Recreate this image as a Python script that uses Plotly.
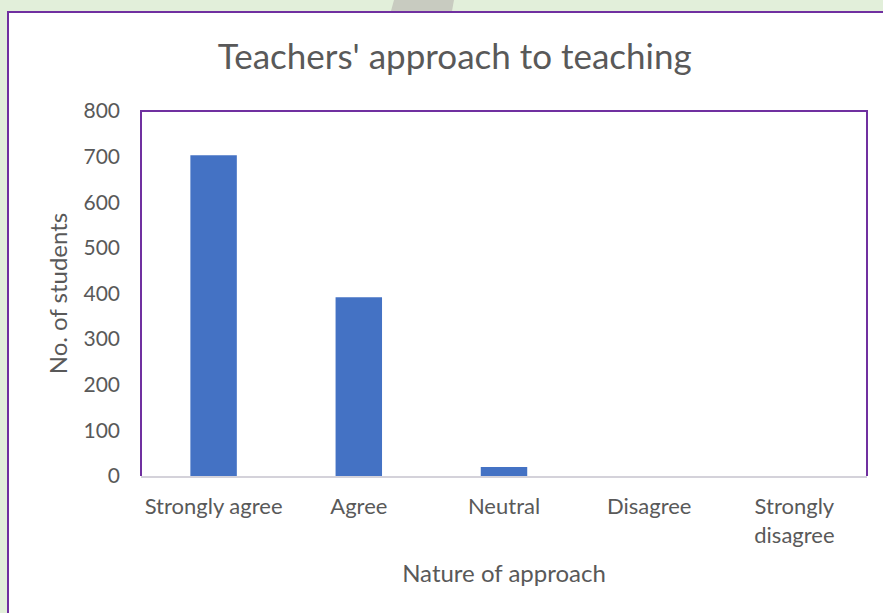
import plotly.graph_objects as go

categories = ["Strongly agree", "Agree", "Neutral", "Disagree", "Strongly<br>disagree"]
students = [703, 392, 20, 0, 0]
y_ticks = [0, 100, 200, 300, 400, 500, 600, 700, 800]

W, H = 883, 613
L, R, T, B = 141, 16, 111, 137
pw, ph = W - L - R, H - T - B


def px_x(px):
    return (px - L) / pw


def px_y(py):
    return (H - B - py) / ph


text_col = "#595959"
purple = "#7030a0"
font_family = "Lato, Calibri, sans-serif"

fig = go.Figure(
    go.Bar(
        x=categories,
        y=students,
        marker=dict(color="#4472c4", line=dict(width=0)),
        width=0.32,
    )
)

shapes = [
    # white chart card with purple border
    dict(type="rect", xref="paper", yref="paper", x0=px_x(8), x1=px_x(W + 20),
         y0=px_y(H + 20), y1=px_y(12), fillcolor="white",
         line=dict(color=purple, width=2), layer="below"),
    # grey slanted tab peeking above the card
    dict(type="path", xref="paper", yref="paper",
         path=f"M {px_x(394)} {px_y(0)} L {px_x(454)} {px_y(0)} L {px_x(452)} {px_y(11)} L {px_x(391)} {px_y(11)} Z",
         fillcolor="#c8cbc0", line=dict(width=0), layer="below"),
    # plot area border: left, top and right sides only
    dict(type="path", xref="paper", yref="paper", path="M 0 0 L 0 1 L 1 1 L 1 0",
         line=dict(color=purple, width=2), layer="below"),
]

fig.update_layout(
    width=W,
    height=H,
    margin=dict(l=L, r=R, t=T, b=B),
    paper_bgcolor="#e2efda",
    plot_bgcolor="white",
    showlegend=False,
    shapes=shapes,
    font=dict(family=font_family, color=text_col),
    title=dict(text="Teachers' approach to teaching", x=0.515, xref="container",
               xanchor="center", y=1 - 57 / H, yanchor="middle",
               font=dict(size=35, color=text_col)),
    xaxis=dict(
        showgrid=False, showline=True, linecolor="#d4d2da", linewidth=2,
        ticks="", tickfont=dict(size=22), ticklabelstandoff=10,
        title=dict(text="Nature of approach", font=dict(size=24), standoff=18),
        zeroline=False,
    ),
    yaxis=dict(
        range=[0, 800], tickvals=y_ticks, showgrid=False, zeroline=False,
        showline=False, ticks="", tickfont=dict(size=21), ticklabelstandoff=20,
        title=dict(text="No. of students", font=dict(size=24), standoff=9),
    ),
)

fig.write_html(
    "out.html",
    config={"displayModeBar": False},
    post_script="document.body.style.margin='0';",
)
